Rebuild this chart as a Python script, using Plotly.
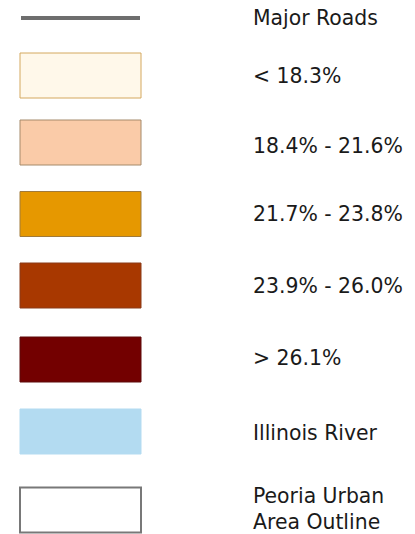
import plotly.graph_objects as go

# Legend data
labels = ["Major Roads", "< 18.3%", "18.4% - 21.6%", "21.7% - 23.8%",
          "23.9% - 26.0%", "> 26.1%", "Illinois River", "Peoria Urban<br>Area Outline"]
fill_colors = [None, "#FFF8EA", "#FACBA8", "#E69800", "#A83800", "#730000", "#B3DBF1", "#FFFFFF"]
border_colors = ["#6E6E6E", "#D4A85E", "#A58A6A", "#A07A3A", "#8A3A18", "#5E0A0A", "#B3DBF1", "#787878"]
kinds = ["line", "box", "box", "box", "box", "box", "box", "box"]

# layout (pixel-like coordinate system)
W, H = 415, 534
row_centers = [18, 75.5, 142.5, 214, 285.5, 359.5, 431.5, 510]
text_centers = [20, 78, 148, 216, 288, 360, 435, 511]
box_x0, box_x1 = 20, 141
box_h = 45
text_x = 253

fig = go.Figure()
shapes = []
for k, yc, fc, bc in zip(kinds, row_centers, fill_colors, border_colors):
    if k == "line":
        fig.add_trace(go.Scatter(x=[box_x0 + 1, box_x1 - 1], y=[yc, yc], mode="lines",
                                 line=dict(color=bc, width=4), hoverinfo="skip",
                                 showlegend=False))
    else:
        bw = 2 if fc == "#FFFFFF" else 1
        shapes.append(dict(type="rect", xref="x", yref="y",
                           x0=box_x0, x1=box_x1, y0=yc - box_h / 2, y1=yc + box_h / 2,
                           fillcolor=fc, line=dict(color=bc, width=bw)))

fig.add_trace(go.Scatter(
    x=[text_x] * len(labels), y=text_centers, mode="text", text=labels,
    textposition="middle right", hoverinfo="skip", showlegend=False,
    textfont=dict(family="DejaVu Sans", size=20.4, color="#1A1A1A")))

fig.update_layout(
    width=W, height=H, margin=dict(l=0, r=0, t=0, b=0),
    paper_bgcolor="white", plot_bgcolor="white", shapes=shapes,
    xaxis=dict(range=[0, W], visible=False, fixedrange=True),
    yaxis=dict(range=[H, 0], visible=False, fixedrange=True),
)
fig.write_html("out.html", config={"displayModeBar": False},
               post_script="document.body.style.margin='0';document.body.style.overflow='hidden';")
